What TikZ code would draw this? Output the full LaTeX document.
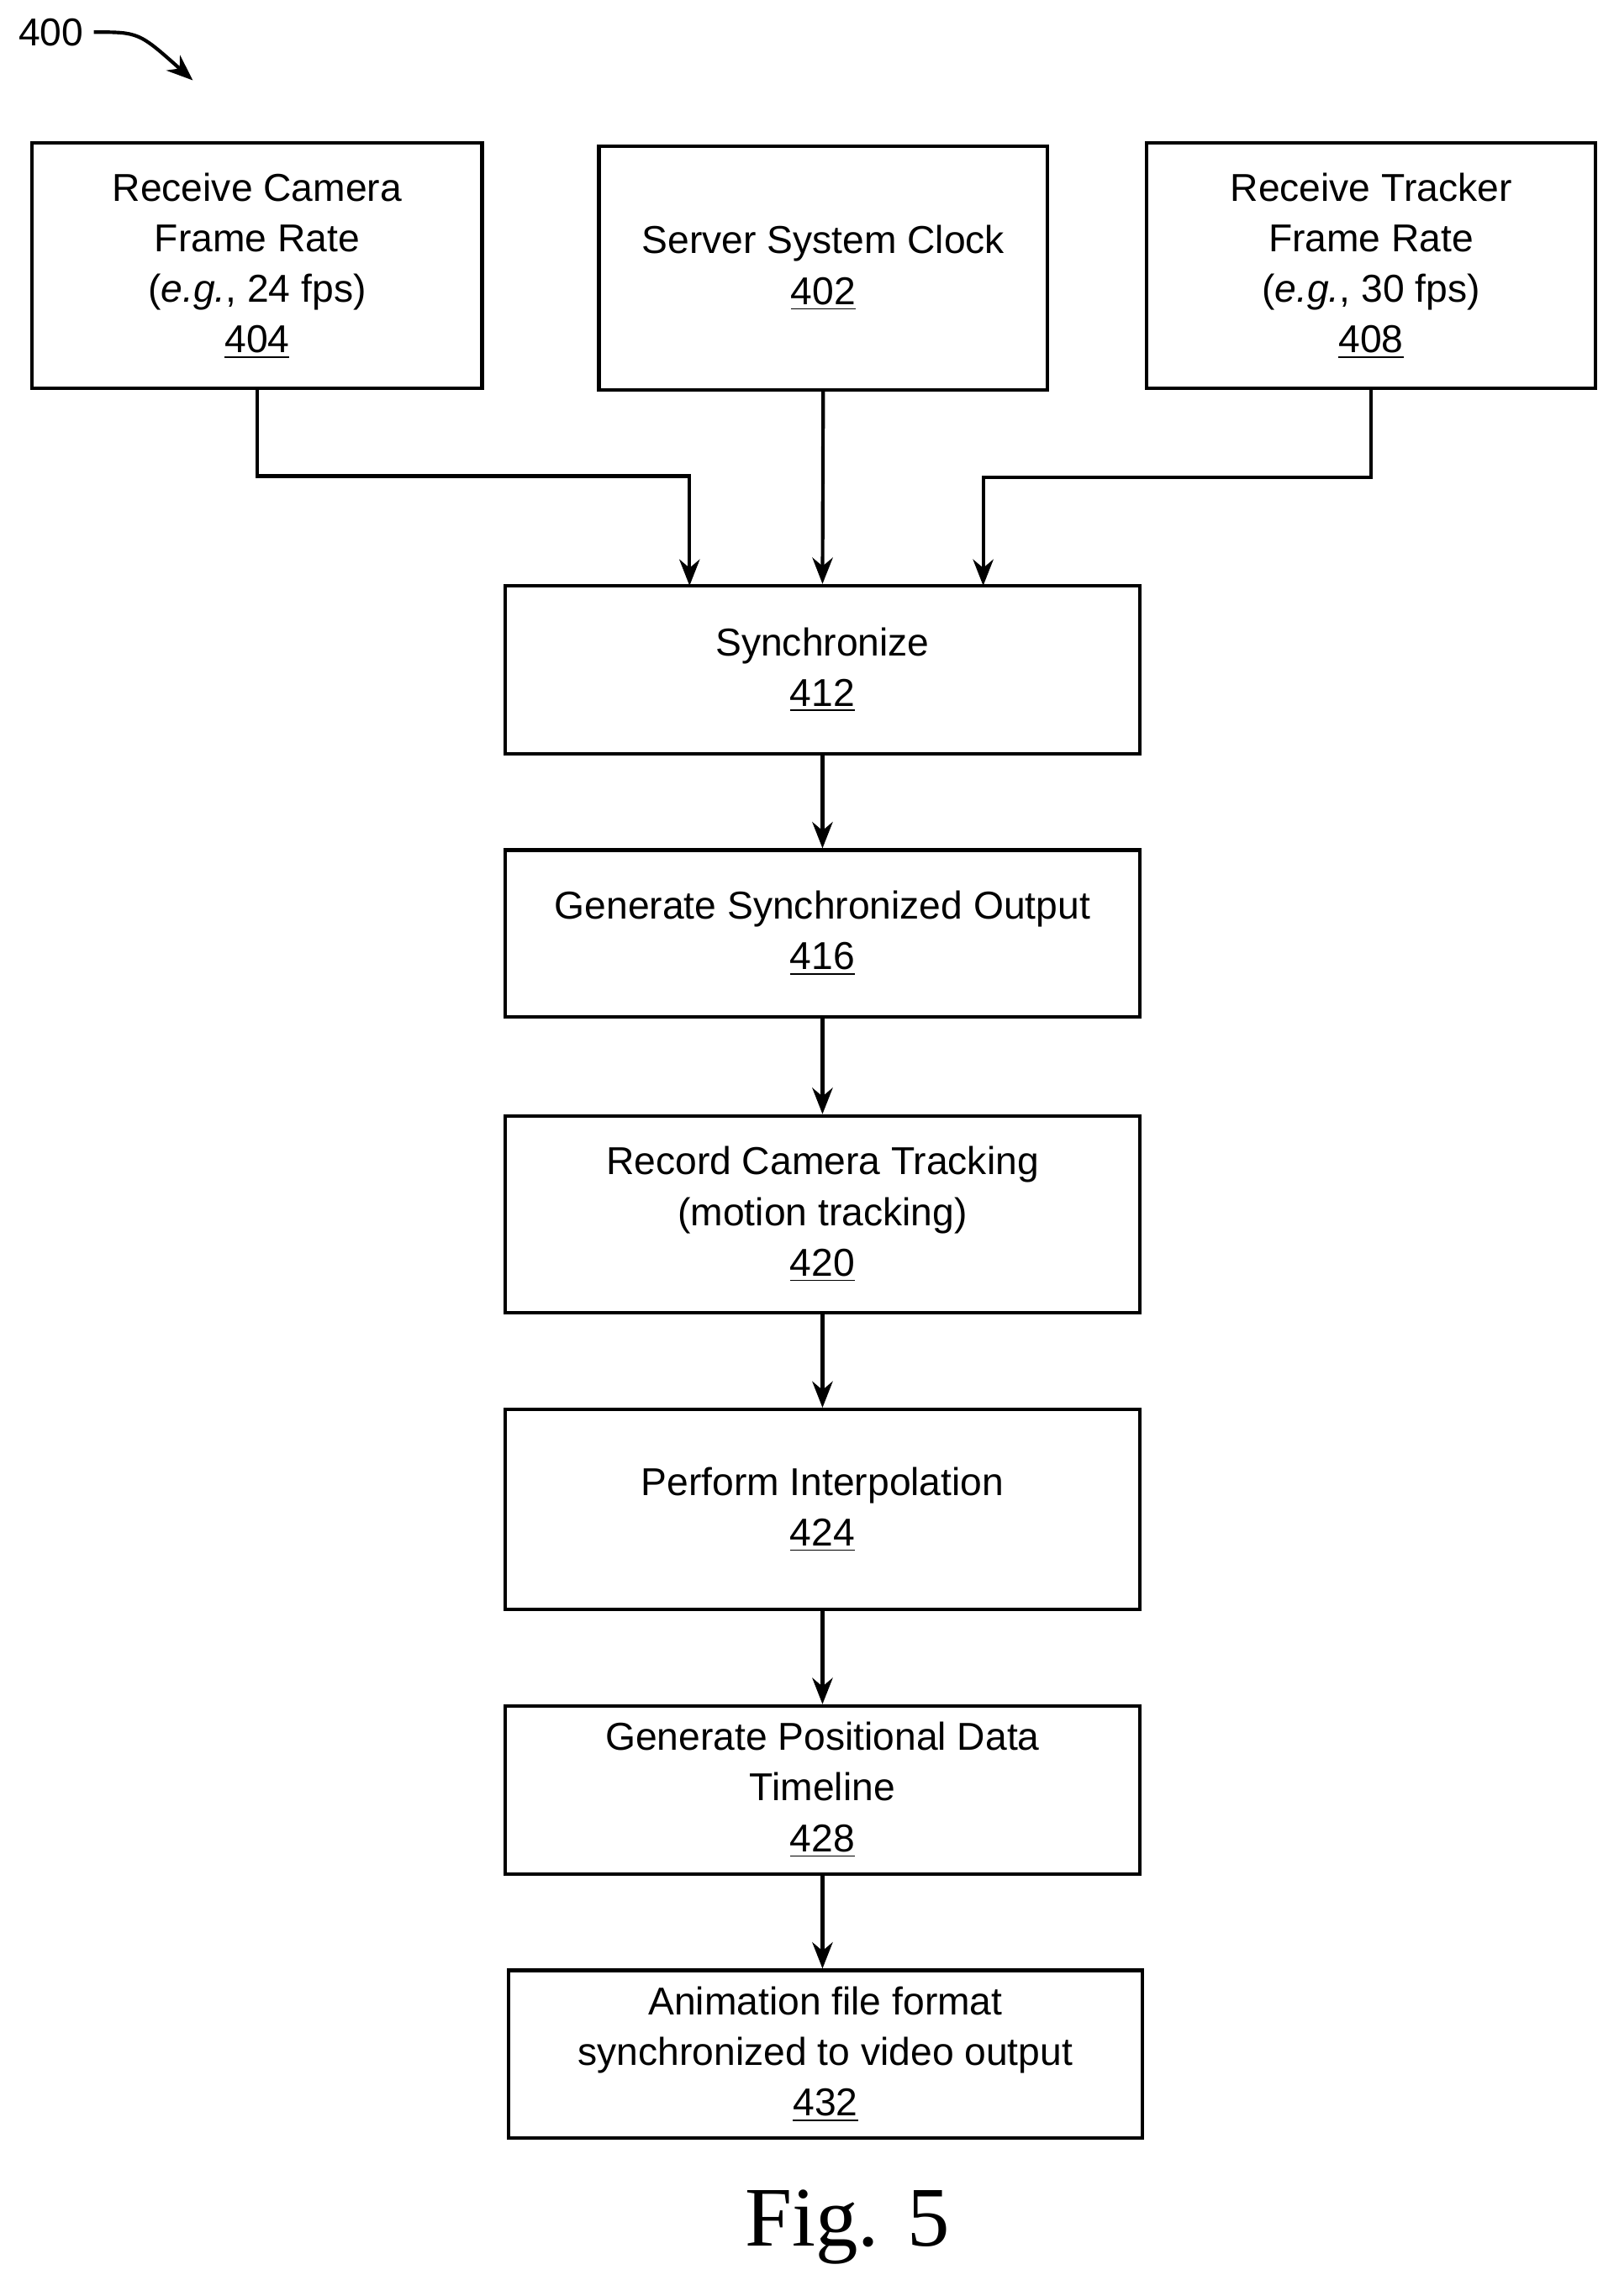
\documentclass[tikz,border=0pt]{standalone}
\usepackage{fontspec}
\setmainfont{Liberation Sans}
\usetikzlibrary{arrows.meta}
\begin{document}
\begin{tikzpicture}[x=0.5pt,y=-0.5pt,
  box/.style={draw,line width=1.2pt,inner sep=0pt,align=center,font=\fontsize{13.3}{17.3}\selectfont},
  arr/.style={line width=1.2pt,-{Stealth[length=9pt,width=7pt]}}]
\useasboundingbox (0,0) rectangle (1108,1572);
\node[box,minimum width=154pt,minimum height=84pt] (b404) at (176,182) {Receive Camera\\Frame Rate\\(\emph{e.g.}, 24 fps)\\\underline{404}};
\node[box,minimum width=153.5pt,minimum height=83.5pt] (b402) at (563.5,183.5) {Server System Clock\\\underline{402}};
\node[box,minimum width=153.5pt,minimum height=84pt] (b408) at (938.5,182) {Receive Tracker\\Frame Rate\\(\emph{e.g.}, 30 fps)\\\underline{408}};
\node[box,minimum width=217pt,minimum height=57.5pt] (b412) at (563,458.5) {Synchronize\\\underline{412}};
\node[box,minimum width=217pt,minimum height=57pt] (b416) at (563,639) {Generate Synchronized Output\\\underline{416}};
\node[box,minimum width=217pt,minimum height=67.5pt] (b420) at (563,831.5) {Record Camera Tracking\\(motion tracking)\\\underline{420}};
\node[box,minimum width=217pt,minimum height=68.5pt] (b424) at (563,1033.5) {Perform Interpolation\\\underline{424}};
\node[box,minimum width=217pt,minimum height=57.5pt] (b428) at (563,1225.5) {Generate Positional Data\\Timeline\\\underline{428}};
\node[box,minimum width=217pt,minimum height=57.5pt] (b432) at (565,1406.5) {Animation file format\\synchronized to video output\\\underline{432}};
\coordinate (t1) at (472,401);
\coordinate (t3) at (673,401);
\draw[arr] (b404.south) |- (472,326) -- (t1);
\draw[arr] (b408.south) |- (673,327) -- (t3);
\draw[arr] (b402.south) -- (b412.north);
\draw[arr] (b412) -- (b416);
\draw[arr] (b416) -- (b420);
\draw[arr] (b420) -- (b424);
\draw[arr] (b424) -- (b428);
\draw[arr] (b428.south) -- (b432.north -| b428.south);
\node[font=\fontsize{13.3}{16}\selectfont] (l400) at (35,22) {400};
\coordinate (a400) at (132,55);
\draw[arr] (l400.east) .. controls (95,22) .. (a400);
\node[font=\fontspec{Liberation Serif}\fontsize{29}{32}\selectfont] (fig) at (580,1525) {Fig. 5};
\end{tikzpicture}
\end{document}
